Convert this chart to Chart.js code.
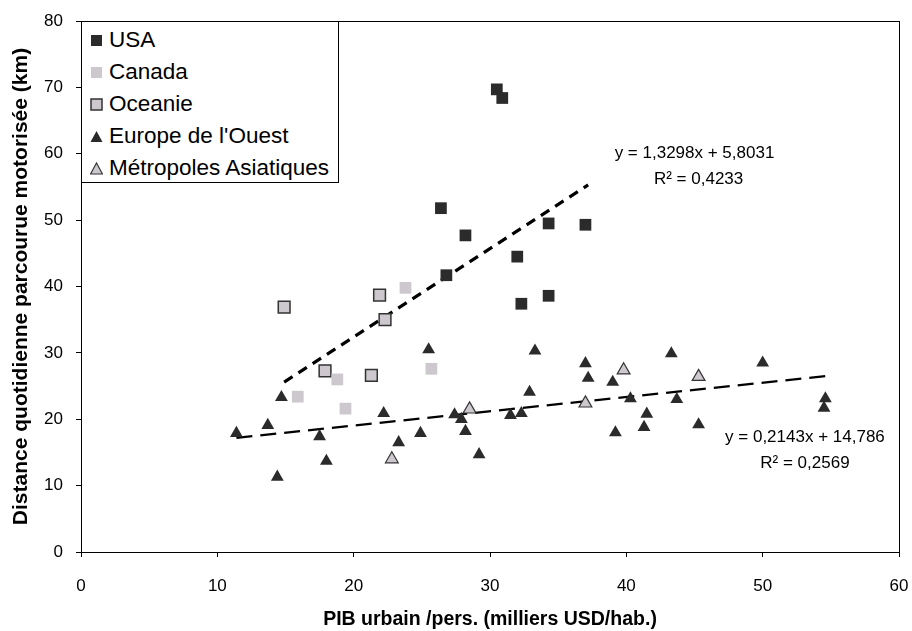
<!DOCTYPE html>
<html>
<head>
<meta charset="utf-8">
<script src="https://cdn.jsdelivr.net/npm/chart.js@4.4.0/dist/chart.umd.min.js"></script>
<style>
  body { margin: 0; background: #fff; }
  #wrap { position: relative; width: 912px; height: 631px; }
  #legend {
    position: absolute; left: 81px; top: 21px; width: 258px; height: 162px;
    border: 1px solid #000; background: #fff; box-sizing: border-box;
    font-family: "Liberation Sans", Arial, sans-serif; font-size: 22.5px; color: #000;
    padding-top: 2px;
  }
  .item { height: 32px; display: flex; align-items: center; padding-left: 8px; }
  .item svg { margin-right: 6px; }
</style>
</head>
<body>
<div id="wrap">
  <canvas id="chart" width="912" height="631"></canvas>
  <div id="legend"></div>
</div>
<script>
// Données
const USA_X = [30.5, 30.9, 26.4, 28.2, 26.8, 32.0, 34.3, 37.0, 32.3, 34.3];
const USA_Y = [69.7, 68.4, 51.8, 47.7, 41.7, 44.5, 49.5, 49.3, 37.4, 38.6];
const CANADA_X = [23.8, 25.7, 18.8, 15.9, 19.4];
const CANADA_Y = [39.8, 27.6, 26.0, 23.4, 21.6];
const OCEANIE_X = [14.9, 21.9, 22.3, 17.9, 21.3];
const OCEANIE_Y = [36.9, 38.7, 35.0, 27.3, 26.6];
const EUROPE_X = [11.4, 13.7, 14.7, 14.4, 17.5, 18.0, 22.2, 23.3, 24.9, 25.5, 27.4, 27.9, 28.2, 29.2, 31.5, 32.3,
  32.9, 33.3, 37.0, 37.2, 39.0, 39.2, 40.3, 41.5, 41.3, 43.3, 43.7, 45.3, 50.0, 54.6, 54.5];
const EUROPE_Y = [17.9, 19.1, 23.3, 11.3, 17.4, 13.7, 20.9, 16.5, 17.9, 30.5, 20.7, 20.0, 18.2, 14.7, 20.6, 20.9,
  24.1, 30.3, 28.4, 26.2, 25.6, 18.0, 23.1, 20.8, 18.8, 29.9, 23.0, 19.2, 28.5, 23.1, 21.7];
const ASIE_X = [22.8, 28.5, 37.0, 39.8, 45.3];
const ASIE_Y = [14.0, 21.5, 22.4, 27.4, 26.4];

// Droites de tendance (extrémités)
const TREND_NA_X = [14.9, 37.2];
const TREND_NA_Y = [25.6, 55.3];
const TREND_EU_X = [11.4, 54.6];
const TREND_EU_Y = [17.2, 26.5];

const X_TICKS = [0, 10, 20, 30, 40, 50, 60];
const Y_TICKS = [0, 10, 20, 30, 40, 50, 60, 70, 80];

const DARK = '#2b2b2b';
const LIGHT = '#ccc8ce';
const FONT = '"Liberation Sans", Arial, sans-serif';

function toPoints(xs, ys) {
  return xs.map((x, i) => ({ x: x, y: ys[i] }));
}

const series = [
  { label: 'USA', xs: USA_X, ys: USA_Y, shape: 'rect', fill: DARK, border: DARK, bw: 0 },
  { label: 'Canada', xs: CANADA_X, ys: CANADA_Y, shape: 'rect', fill: LIGHT, border: LIGHT, bw: 0 },
  { label: 'Oceanie', xs: OCEANIE_X, ys: OCEANIE_Y, shape: 'rect', fill: LIGHT, border: '#333', bw: 1.5 },
  { label: "Europe de l'Ouest", xs: EUROPE_X, ys: EUROPE_Y, shape: 'triangle', fill: DARK, border: DARK, bw: 0 },
  { label: 'Métropoles Asiatiques', xs: ASIE_X, ys: ASIE_Y, shape: 'triangle', fill: LIGHT, border: '#333', bw: 1.2 }
];

const datasets = series.map(s => ({
  label: s.label,
  data: toPoints(s.xs, s.ys),
  pointStyle: s.shape,
  pointRadius: s.shape === 'rect' ? 8.3 : 7.4,
  backgroundColor: s.fill,
  borderColor: s.border,
  borderWidth: s.bw,
  showLine: false
}));

datasets.push({
  label: 'tendance NA',
  data: toPoints(TREND_NA_X, TREND_NA_Y),
  showLine: true, pointRadius: 0, borderColor: '#000', borderWidth: 3.2, borderDash: [10, 7]
});
datasets.push({
  label: 'tendance EU',
  data: toPoints(TREND_EU_X, TREND_EU_Y),
  showLine: true, pointRadius: 0, borderColor: '#000', borderWidth: 2.2, borderDash: [16, 8]
});

// Equations des droites, placées en coordonnées de données
const EQUATIONS = [
  { x: 45.0, y: 60.1, text: 'y = 1,3298x + 5,8031' },
  { x: 45.3, y: 56.2, text: 'R² = 0,4233' },
  { x: 53.1, y: 17.3, text: 'y = 0,2143x + 14,786' },
  { x: 53.1, y: 13.4, text: 'R² = 0,2569' }
];

const framePlugin = {
  id: 'frame',
  afterDraw(chart) {
    const { ctx, chartArea: a, scales } = chart;
    ctx.save();
    ctx.strokeStyle = '#000';
    ctx.lineWidth = 1;
    ctx.strokeRect(a.left + 0.5, a.top + 0.5, a.right - a.left, a.bottom - a.top);
    ctx.fillStyle = '#000';
    ctx.font = '17px ' + FONT;
    ctx.textAlign = 'center';
    ctx.textBaseline = 'middle';
    EQUATIONS.forEach(e => {
      ctx.fillText(e.text, scales.x.getPixelForValue(e.x), scales.y.getPixelForValue(e.y));
    });
    ctx.restore();
  }
};

new Chart(document.getElementById('chart'), {
  type: 'scatter',
  data: { datasets: datasets },
  plugins: [framePlugin],
  options: {
    responsive: false,
    animation: false,
    layout: { padding: { top: 21, right: 13, bottom: 0, left: 0 } },
    plugins: { legend: { display: false }, tooltip: { enabled: false } },
    scales: {
      x: {
        type: 'linear', min: 0, max: 60,
        afterBuildTicks: scale => { scale.ticks = X_TICKS.map(v => ({ value: v })); },
        afterFit: scale => { scale.height = 79; scale.paddingLeft = 0; scale.paddingRight = 0; },
        grid: { drawOnChartArea: false, drawTicks: true, tickLength: 5, color: '#000' },
        border: { color: '#000', width: 1 },
        ticks: { color: '#000', font: { family: FONT, size: 17 }, padding: 19, maxRotation: 0 },
        title: {
          display: true, text: 'PIB urbain /pers. (milliers USD/hab.)', color: '#000',
          font: { family: FONT, size: 19.5, weight: 'bold' }, padding: { bottom: 0 }
        }
      },
      y: {
        type: 'linear', min: 0, max: 80,
        afterBuildTicks: scale => { scale.ticks = Y_TICKS.map(v => ({ value: v })); },
        afterFit: scale => { scale.width = 81; scale.paddingTop = 0; scale.paddingBottom = 0; },
        grid: { drawOnChartArea: false, drawTicks: true, tickLength: 5, color: '#000' },
        border: { color: '#000', width: 1 },
        ticks: { color: '#000', font: { family: FONT, size: 17 }, padding: 13 },
        title: {
          display: true, text: 'Distance quotidienne parcourue motorisée (km)', color: '#000',
          font: { family: FONT, size: 21, weight: 'bold' }, padding: { top: 9 }
        }
      }
    }
  }
});

// Légende dans la zone du graphique
function markerSvg(s) {
  const shape = s.shape === 'rect'
    ? `<rect x="1" y="1" width="11" height="11" fill="${s.fill}" stroke="${s.border}" stroke-width="${s.bw}"/>`
    : `<polygon points="6.5,1 12.5,12 0.5,12" fill="${s.fill}" stroke="${s.border}" stroke-width="${s.bw}"/>`;
  return `<svg width="13" height="13" viewBox="0 0 13 13">${shape}</svg>`;
}

let legendHTML = '';
series.forEach(s => {
  legendHTML += `<div class="item">${markerSvg(s)}<span>${s.label}</span></div>`;
});
document.getElementById('legend').innerHTML = legendHTML;
</script>
</body>
</html>
